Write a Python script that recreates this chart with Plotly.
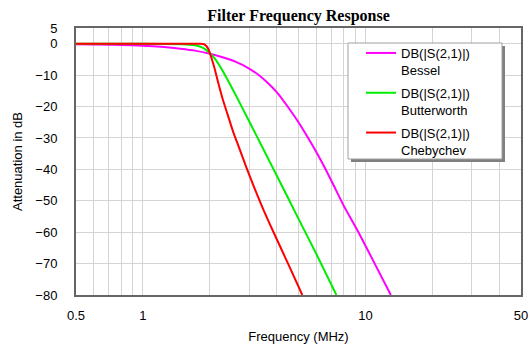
import plotly.graph_objects as go

# Frequency response of three 7th-order low-pass filters (cutoff ~2 MHz)
bessel_f = [0.5, 0.6, 0.7, 0.8, 1.0, 1.2, 1.47, 1.71, 2.0, 2.3, 2.6, 3.0, 3.3, 3.6,
            4.0, 4.5, 5.0, 5.5, 6.0, 6.6, 7.3, 8.0, 9.3, 11.0, 13.0]
bessel_db = [-0.15, -0.22, -0.3, -0.4, -0.62, -0.95, -1.6, -2.2, -3.2, -4.4, -5.7, -7.9, -9.9, -12.2,
             -15.5, -20.3, -25.0, -29.8, -34.4, -39.8, -46.0, -51.7, -60.0, -70.0, -80.0]

butter_f = [0.5, 1.0, 1.5, 1.71, 1.8, 1.9, 2.0, 2.1, 2.2, 2.3, 2.46, 2.64, 3.0, 3.5,
            4.0, 4.5, 5.32, 6.0, 7.4]
butter_db = [0.0, 0.0, -0.15, -0.5, -0.9, -1.7, -3.0, -4.7, -6.8, -9.1, -12.9, -17.0, -24.7, -34.0,
             -42.1, -49.3, -59.5, -66.8, -80.0]

cheby_f = [0.5, 1.0, 1.5, 1.8, 1.87, 1.93, 1.97, 2.0, 2.05, 2.1, 2.18, 2.29, 2.4, 2.55,
           2.7, 2.92, 3.18, 3.5, 3.89, 4.52, 5.2]
cheby_db = [0.0, 0.0, 0.0, 0.0, -0.1, -0.8, -1.8, -3.0, -5.4, -8.0, -12.5, -18.0, -22.5, -28.3,
            -33.0, -39.5, -46.2, -53.3, -60.5, -70.5, -80.0]

series_names = ["DB(|S(2,1)|)<br>Bessel", "DB(|S(2,1)|)<br>Butterworth", "DB(|S(2,1)|)<br>Chebychev"]
series_colors = ["#ff00ff", "#00ee00", "#ff0000"]

x_grid = [0.5, 0.6, 0.7, 0.8, 0.9, 1, 2, 3, 4, 5, 6, 7, 8, 9, 10, 20, 30, 40, 50]
x_labels = {0.5: "0.5", 1: "1", 10: "10", 50: "50"}
y_ticks = [5, 0, -10, -20, -30, -40, -50, -60, -70, -80]

FONT = "Liberation Sans, Arial, sans-serif"

# plot area in pixels
L, R, T, B = 76, 521, 28, 295
W, H = R - L, B - T


def px_x(p):
    return (p - L) / W


def px_y(p):
    return (B - p) / H


fig = go.Figure()
for i, (fx, dbx) in enumerate([(bessel_f, bessel_db), (butter_f, butter_db), (cheby_f, cheby_db)]):
    fig.add_trace(go.Scatter(
        x=fx, y=dbx, mode="lines", name=series_names[i],
        line=dict(color=series_colors[i], width=2, shape="spline", smoothing=0.5),
        legendgroup=str(i),
    ))

# Legend frame with a drop shadow
fig.add_shape(type="rect", xref="paper", yref="paper",
              x0=px_x(351), x1=px_x(505), y0=px_y(162), y1=px_y(46),
              fillcolor="#808080", line=dict(width=0), layer="above")
fig.add_shape(type="rect", xref="paper", yref="paper",
              x0=px_x(348), x1=px_x(502), y0=px_y(159), y1=px_y(43),
              fillcolor="white", line=dict(color="#a0a0a0", width=1), layer="above")

fig.update_layout(
    width=532, height=345,
    margin=dict(l=L, r=532 - R, t=T, b=345 - B, autoexpand=False),
    paper_bgcolor="white", plot_bgcolor="white",
    font=dict(family=FONT, size=13, color="black"),
    title=dict(text="<b>Filter Frequency Response</b>",
               font=dict(family="Liberation Serif, Times New Roman, serif", size=16, color="black"),
               x=298.5 / 532, xanchor="center", y=1 - 15 / 345, yanchor="middle"),
    showlegend=True,
    legend=dict(x=px_x(361), y=px_y(38), xanchor="left", yanchor="top",
                bgcolor="rgba(0,0,0,0)", borderwidth=0, valign="top",
                tracegroupgap=3, itemwidth=30,
                font=dict(family=FONT, size=13, color="black")),
    xaxis=dict(
        type="log", range=[-0.30103, 1.69897], automargin=False,
        tickvals=x_grid, ticktext=[x_labels.get(v, "") for v in x_grid],
        showgrid=True, gridcolor="#d4d4d4", gridwidth=1,
        showline=True, linecolor="#666666", linewidth=2, mirror=True,
        ticks="", ticklabelstandoff=7, zeroline=False,
        title=dict(text="Frequency (MHz)", standoff=10, font=dict(size=13)),
    ),
    yaxis=dict(
        range=[-80, 5], tickvals=y_ticks, automargin=False,
        showgrid=True, gridcolor="#d4d4d4", gridwidth=1,
        showline=True, linecolor="#666666", linewidth=2, mirror=True,
        ticks="", ticklabelstandoff=14, zeroline=False,
        title=dict(text="Attenuation in dB", standoff=10, font=dict(size=13)),
    ),
)

fig.write_html("out.html")
